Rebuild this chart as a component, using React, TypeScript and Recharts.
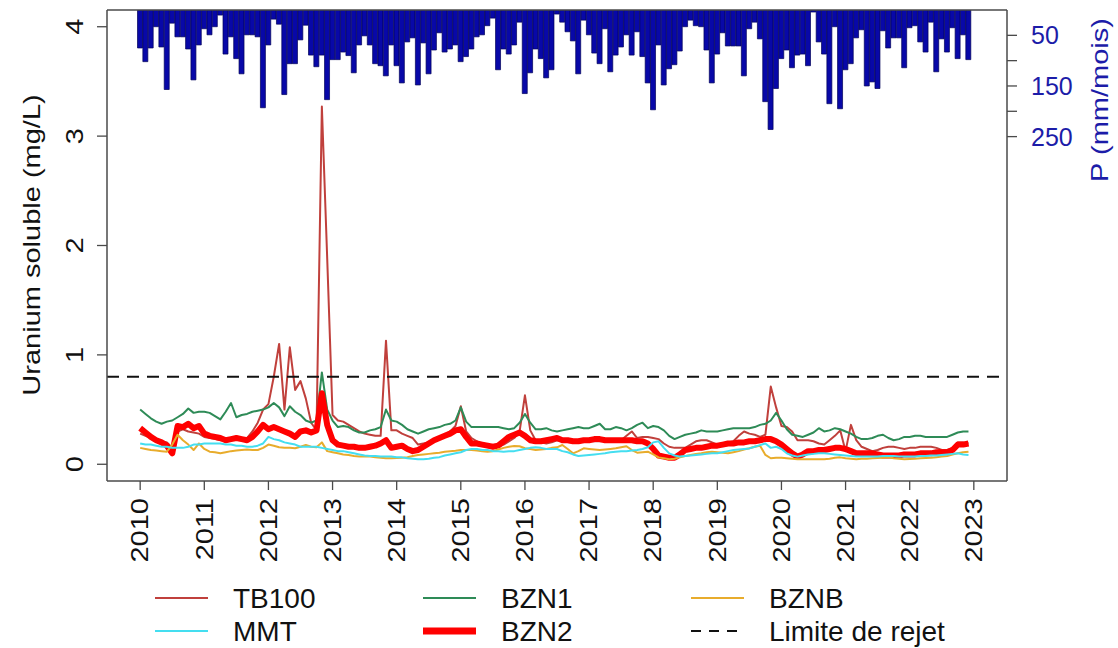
import { Bar, ComposedChart, Line, ReferenceLine, XAxis, YAxis } from "recharts";

const YEARS = [2010, 2011, 2012, 2013, 2014, 2015, 2016, 2017, 2018, 2019, 2020, 2021, 2022];
const MONTHS = ["01", "02", "03", "04", "05", "06", "07", "08", "09", "10", "11", "12"];
const TICK_YEARS = [2010, 2011, 2012, 2013, 2014, 2015, 2016, 2017, 2018, 2019, 2020, 2021, 2022, 2023];
const U_TICKS = [0, 1, 2, 3, 4];
const P_TICKS = [50, 100, 150, 200, 250];
const P_LABELS = [50, 150, 250];
const LIMIT = 0.8;

// pluie mensuelle (mm/mois)
const precip = [
  75, 102, 75, 33, 73, 157, 26, 53, 53, 77, 138, 69,
  37, 49, 33, 10, 87, 53, 96, 126, 49, 49, 53, 193,
  69, 18, 28, 167, 106, 106, 59, 30, 89, 112, 89, 177,
  98, 98, 83, 90, 124, 69, 51, 69, 106, 110, 130, 69,
  110, 144, 63, 55, 148, 65, 126, 79, 45, 83, 77, 69,
  102, 92, 77, 53, 49, 31, 16, 118, 77, 87, 69, 24,
  165, 124, 77, 96, 134, 118, 8, 24, 43, 61, 126, 20,
  49, 85, 106, 37, 122, 89, 73, 49, 89, 43, 92, 144,
  197, 69, 148, 116, 108, 81, 33, 20, 31, 33, 79, 144,
  87, 45, 71, 71, 71, 130, 37, 24, 57, 181, 236, 155,
  96, 79, 114, 89, 87, 110, 4, 63, 87, 185, 33, 195,
  118, 106, 55, 39, 150, 142, 155, 41, 75, 55, 55, 114,
  35, 31, 63, 83, 24, 122, 57, 83, 35, 96, 49, 98,
];

const tb100 = [
  0.28, 0.26, 0.24, 0.22, 0.21, 0.2, 0.15, 0.3, 0.32, 0.3, 0.29, 0.28,
  0.25, 0.24, 0.23, 0.22, 0.22, 0.23, 0.23, 0.22, 0.24, 0.3, 0.38, 0.5,
  0.55, 0.8, 1.1, 0.5, 1.07, 0.68, 0.76, 0.6, 0.38, 0.31, 3.27, 1.88,
  0.45, 0.4, 0.39, 0.36, 0.33, 0.3, 0.28, 0.27, 0.26, 0.26, 1.13, 0.31,
  0.31, 0.28, 0.26, 0.24, 0.18, 0.19, 0.2, 0.22, 0.24, 0.27, 0.3, 0.35,
  0.53, 0.3, 0.24, 0.21, 0.17, 0.16, 0.15, 0.16, 0.18, 0.21, 0.24, 0.3,
  0.63, 0.31, 0.22, 0.2, 0.19, 0.2, 0.22, 0.21, 0.21, 0.21, 0.21, 0.21,
  0.21, 0.21, 0.21, 0.21, 0.21, 0.22, 0.22, 0.26, 0.3, 0.24, 0.25, 0.25,
  0.24, 0.23, 0.19, 0.16, 0.15, 0.15, 0.15, 0.18, 0.21, 0.22, 0.22, 0.2,
  0.18, 0.19, 0.2, 0.21, 0.26, 0.3, 0.28, 0.27, 0.25, 0.27, 0.71, 0.52,
  0.35, 0.34, 0.3, 0.22, 0.22, 0.22, 0.21, 0.19, 0.18, 0.22, 0.26, 0.31,
  0.12, 0.36, 0.22, 0.16, 0.14, 0.12, 0.13, 0.15, 0.16, 0.16, 0.15, 0.14,
  0.15, 0.15, 0.16, 0.16, 0.16, 0.15, 0.13, 0.13, 0.15, 0.2, 0.2, 0.19,
];

const bzn1 = [
  0.5, 0.46, 0.42, 0.39, 0.37, 0.39, 0.4, 0.43, 0.46, 0.51, 0.47, 0.48,
  0.48, 0.47, 0.44, 0.41, 0.48, 0.56, 0.43, 0.45, 0.46, 0.48, 0.49, 0.5,
  0.52, 0.56, 0.52, 0.44, 0.53, 0.48, 0.45, 0.4, 0.38, 0.4, 0.84, 0.5,
  0.4, 0.34, 0.35, 0.34, 0.31, 0.29, 0.29, 0.31, 0.32, 0.34, 0.5, 0.4,
  0.39, 0.36, 0.32, 0.3, 0.28, 0.3, 0.32, 0.33, 0.34, 0.36, 0.37, 0.4,
  0.52, 0.39, 0.34, 0.34, 0.34, 0.34, 0.34, 0.34, 0.33, 0.32, 0.33, 0.38,
  0.46, 0.38, 0.32, 0.32, 0.33, 0.31, 0.3, 0.31, 0.32, 0.33, 0.34, 0.33,
  0.33, 0.35, 0.37, 0.32, 0.32, 0.34, 0.33, 0.31, 0.33, 0.36, 0.38, 0.33,
  0.35, 0.34, 0.31, 0.26, 0.23, 0.25, 0.27, 0.28, 0.29, 0.31, 0.3, 0.3,
  0.3, 0.31, 0.32, 0.33, 0.33, 0.33, 0.33, 0.34, 0.36, 0.37, 0.4, 0.47,
  0.4, 0.32, 0.27, 0.26, 0.25, 0.27, 0.29, 0.33, 0.3, 0.31, 0.33, 0.32,
  0.3, 0.28, 0.25, 0.23, 0.23, 0.24, 0.26, 0.27, 0.24, 0.22, 0.23, 0.25,
  0.25, 0.26, 0.26, 0.25, 0.25, 0.25, 0.25, 0.25, 0.27, 0.29, 0.3, 0.3,
];

const bzn2 = [
  0.33, 0.29, 0.25, 0.22, 0.2, 0.17, 0.1, 0.35, 0.34, 0.37, 0.33, 0.35,
  0.28, 0.26, 0.25, 0.24, 0.22, 0.23, 0.24, 0.23, 0.22, 0.25, 0.3, 0.36,
  0.32, 0.34, 0.32, 0.3, 0.28, 0.25, 0.3, 0.31, 0.29, 0.31, 0.65, 0.36,
  0.22, 0.18, 0.17, 0.16, 0.16, 0.15, 0.15, 0.16, 0.17, 0.19, 0.22, 0.15,
  0.16, 0.17, 0.14, 0.12, 0.13, 0.16, 0.19, 0.22, 0.24, 0.26, 0.28, 0.31,
  0.32, 0.25, 0.19, 0.19, 0.18, 0.17, 0.16, 0.17, 0.21, 0.25, 0.27, 0.29,
  0.26, 0.22, 0.21, 0.21, 0.22, 0.23, 0.24, 0.22, 0.22, 0.21, 0.21, 0.22,
  0.22, 0.23, 0.23, 0.22, 0.22, 0.22, 0.22, 0.22, 0.22, 0.21, 0.21, 0.19,
  0.14, 0.08, 0.07, 0.06, 0.06, 0.09, 0.13, 0.14, 0.15, 0.15, 0.16, 0.17,
  0.17, 0.18, 0.19, 0.19, 0.2, 0.2, 0.21, 0.21, 0.22, 0.23, 0.23, 0.21,
  0.18, 0.14, 0.1, 0.07, 0.09, 0.12, 0.12, 0.13, 0.13, 0.14, 0.15, 0.15,
  0.14, 0.12, 0.1, 0.1, 0.1, 0.1, 0.09, 0.08, 0.08, 0.08, 0.08, 0.09,
  0.09, 0.09, 0.1, 0.1, 0.1, 0.11, 0.11, 0.11, 0.13, 0.18, 0.18, 0.19,
];

const mmt = [
  0.19, 0.18, 0.18, 0.17, 0.16, 0.16, 0.15, 0.15, 0.15, 0.16, 0.18, 0.18,
  0.19, 0.19, 0.19, 0.19, 0.18, 0.18, 0.17, 0.17, 0.16, 0.16, 0.17, 0.19,
  0.25, 0.23, 0.22, 0.2, 0.19, 0.18, 0.16, 0.16, 0.16, 0.16, 0.15, 0.14,
  0.13, 0.12, 0.12, 0.11, 0.1, 0.09, 0.08, 0.075, 0.075, 0.07, 0.07, 0.07,
  0.065, 0.063, 0.055, 0.05, 0.045, 0.045, 0.05, 0.06, 0.065, 0.08, 0.09, 0.1,
  0.11, 0.13, 0.14, 0.14, 0.13, 0.13, 0.12, 0.12, 0.115, 0.12, 0.12, 0.13,
  0.14, 0.15, 0.155, 0.15, 0.14, 0.14, 0.14, 0.12, 0.11, 0.09, 0.075, 0.08,
  0.085, 0.09, 0.095, 0.1, 0.11, 0.115, 0.12, 0.12, 0.125, 0.13, 0.14, 0.155,
  0.2, 0.21, 0.15, 0.1, 0.08, 0.07, 0.075, 0.08, 0.085, 0.09, 0.095, 0.1,
  0.1, 0.11, 0.12, 0.13, 0.135, 0.14, 0.145, 0.16, 0.175, 0.19, 0.15, 0.16,
  0.14, 0.1, 0.08, 0.07, 0.08, 0.09, 0.095, 0.1, 0.1, 0.095, 0.09, 0.085,
  0.08, 0.075, 0.07, 0.07, 0.07, 0.07, 0.07, 0.075, 0.075, 0.075, 0.07, 0.07,
  0.07, 0.07, 0.075, 0.075, 0.08, 0.08, 0.085, 0.09, 0.095, 0.1, 0.09, 0.085,
];

const bznb = [
  0.15, 0.14, 0.13, 0.125, 0.12, 0.115, 0.18, 0.27, 0.22, 0.18, 0.13, 0.19,
  0.14, 0.115, 0.11, 0.1, 0.11, 0.12, 0.125, 0.13, 0.135, 0.13, 0.13, 0.15,
  0.18, 0.17, 0.155, 0.15, 0.15, 0.146, 0.16, 0.176, 0.16, 0.155, 0.2, 0.12,
  0.11, 0.1, 0.09, 0.085, 0.075, 0.07, 0.07, 0.07, 0.065, 0.06, 0.055, 0.055,
  0.058, 0.06, 0.065, 0.075, 0.085, 0.09, 0.095, 0.1, 0.105, 0.115, 0.12, 0.124,
  0.13, 0.13, 0.13, 0.125, 0.12, 0.115, 0.12, 0.135, 0.15, 0.16, 0.167, 0.165,
  0.146, 0.14, 0.13, 0.135, 0.14, 0.15, 0.155, 0.176, 0.14, 0.1, 0.12, 0.146,
  0.14, 0.135, 0.13, 0.135, 0.14, 0.146, 0.155, 0.165, 0.13, 0.106, 0.11, 0.115,
  0.09, 0.063, 0.055, 0.045, 0.05, 0.065, 0.075, 0.085, 0.094, 0.1, 0.11, 0.115,
  0.11, 0.105, 0.1, 0.11, 0.12, 0.135, 0.146, 0.16, 0.17, 0.085, 0.055, 0.06,
  0.06, 0.055, 0.05, 0.045, 0.045, 0.045, 0.045, 0.045, 0.045, 0.05, 0.06, 0.063,
  0.055, 0.05, 0.045, 0.05, 0.05, 0.054, 0.058, 0.06, 0.063, 0.055, 0.05, 0.045,
  0.048, 0.05, 0.054, 0.058, 0.06, 0.065, 0.07, 0.075, 0.09, 0.1, 0.11, 0.115,
];

const SERIES = [
  { key: "tb100", name: "TB100", color: "#c0403c", width: 2 },
  { key: "bzn1", name: "BZN1", color: "#2e8b57", width: 2 },
  { key: "bzn2", name: "BZN2", color: "#ff0000", width: 6 },
  { key: "bznb", name: "BZNB", color: "#e8ac2c", width: 2 },
  { key: "mmt", name: "MMT", color: "#44def0", width: 2 },
];

const LEGEND = [
  { name: "TB100", color: "#c0403c", width: 2, dash: "", col: 0, row: 0 },
  { name: "BZN1", color: "#2e8b57", width: 2, dash: "", col: 1, row: 0 },
  { name: "BZNB", color: "#e8ac2c", width: 2, dash: "", col: 2, row: 0 },
  { name: "MMT", color: "#44def0", width: 2, dash: "", col: 0, row: 1 },
  { name: "BZN2", color: "#ff0000", width: 7, dash: "", col: 1, row: 1 },
  { name: "Limite de rejet", color: "#111", width: 2, dash: "10 8", col: 2, row: 1 },
];

const data: Record<string, string | number>[] = YEARS.flatMap((y, yi) =>
  MONTHS.map((mm, mi) => {
    const i = yi * 12 + mi;
    return {
      date: `${y}-${mm}`,
      p: precip[i],
      tb100: tb100[i],
      bzn1: bzn1[i],
      bzn2: bzn2[i],
      bznb: bznb[i],
      mmt: mmt[i],
    };
  })
);
data.push({ date: "2023-01" });

const FONT = "'Liberation Sans', Arial, sans-serif";
const FS = 29;
const SX = 0.85; // rotated labels look squeezed sideways
const FRAME = "#4a4a4a";
const BLUE = "#1c1ca8";

function VText({ x, y, anchor, fill, size, children }: any) {
  return (
    <text
      x={0}
      y={0}
      transform={`translate(${x},${y}) scale(${SX},1) rotate(-90)`}
      textAnchor={anchor}
      dominantBaseline="central"
      fontSize={size}
      fontFamily={FONT}
      fill={fill}
    >
      {children}
    </text>
  );
}

function XTick({ x, y, payload }: any) {
  return (
    <VText x={x} y={y + 6} anchor="end" fill="#111" size={FS}>
      {String(payload.value).slice(0, 4)}
    </VText>
  );
}

function UTick({ x, y, payload }: any) {
  return (
    <VText x={x - 20} y={y} anchor="middle" fill="#111" size={FS}>
      {payload.value}
    </VText>
  );
}

function PTick({ x, y, payload }: any) {
  if (!P_LABELS.includes(payload.value)) return null;
  return (
    <text
      x={x + 12}
      y={y}
      textAnchor="start"
      dominantBaseline="central"
      fontSize={25}
      fontFamily={FONT}
      fill={BLUE}
    >
      {payload.value}
    </text>
  );
}

function UTitle() {
  return (
    <VText x={32} y={245} anchor="middle" fill="#111" size={FS}>
      Uranium soluble (mg/L)
    </VText>
  );
}

function PTitle() {
  return (
    <VText x={1100} y={100} anchor="middle" fill={BLUE} size={FS}>
      P (mm/mois)
    </VText>
  );
}

function LegendBox() {
  const textX = [233, 501, 769];
  const rowY = [598, 631];
  return (
    <svg
      width={1118}
      height={648}
      style={{ position: "absolute", left: 0, top: 0, pointerEvents: "none" }}
    >
      {LEGEND.map((it) => (
        <g key={it.name}>
          <line
            x1={textX[it.col] - 78}
            x2={textX[it.col] - 25}
            y1={rowY[it.row]}
            y2={rowY[it.row]}
            stroke={it.color}
            strokeWidth={it.width}
            strokeDasharray={it.dash || undefined}
          />
          <text
            x={textX[it.col]}
            y={rowY[it.row]}
            dominantBaseline="central"
            fontSize={28}
            fontFamily={FONT}
            fill="#111"
          >
            {it.name}
          </text>
        </g>
      ))}
    </svg>
  );
}

export default function App() {
  return (
    <div style={{ position: "absolute", left: 0, top: 0, width: 1118, height: 648, background: "#fff" }}>
      <ComposedChart
        width={1118}
        height={648}
        data={data}
        margin={{ top: 9, right: 51, bottom: 87, left: 37 }}
        barCategoryGap={0}
        barGap={0}
      >
        <XAxis
          xAxisId="b"
          dataKey="date"
          type="category"
          ticks={TICK_YEARS.map((y) => `${y}-01`)}
          interval={0}
          tick={<XTick />}
          tickSize={9}
          tickLine={{ stroke: FRAME, strokeWidth: 1.3 }}
          axisLine={{ stroke: FRAME, strokeWidth: 1.5 }}
          height={80}
          padding={{ left: 30.5, right: 30.5 }}
        />
        <XAxis
          xAxisId="t"
          dataKey="date"
          orientation="top"
          type="category"
          tick={false}
          tickLine={false}
          axisLine={{ stroke: FRAME, strokeWidth: 1.5 }}
          height={1}
        />
        <YAxis
          yAxisId="u"
          type="number"
          domain={[-0.153, 4.153]}
          ticks={U_TICKS}
          allowDataOverflow
          tick={<UTick />}
          tickSize={10}
          tickLine={{ stroke: FRAME, strokeWidth: 1.3 }}
          axisLine={{ stroke: FRAME, strokeWidth: 1.5 }}
          width={70}
          label={<UTitle />}
        />
        <YAxis
          yAxisId="p"
          orientation="right"
          type="number"
          domain={[0, 930]}
          reversed
          ticks={P_TICKS}
          allowDataOverflow
          tick={<PTick />}
          tickSize={10}
          tickLine={{ stroke: FRAME, strokeWidth: 1.3 }}
          axisLine={{ stroke: FRAME, strokeWidth: 1.5 }}
          width={60}
          label={<PTitle />}
        />
        <Bar
          xAxisId="b"
          yAxisId="p"
          dataKey="p"
          fill="#0808a8"
          stroke="#000058"
          strokeWidth={0.7}
          isAnimationActive={false}
        />
        {SERIES.map((s) => (
          <Line
            key={s.key}
            xAxisId="b"
            yAxisId="u"
            type="linear"
            dataKey={s.key}
            name={s.name}
            stroke={s.color}
            strokeWidth={s.width}
            strokeLinejoin="round"
            dot={false}
            activeDot={false}
            isAnimationActive={false}
          />
        ))}
        <ReferenceLine
          xAxisId="t"
          yAxisId="u"
          y={LIMIT}
          stroke="#111"
          strokeWidth={2}
          strokeDasharray="12 8"
        />
      </ComposedChart>
      <LegendBox />
    </div>
  );
}
